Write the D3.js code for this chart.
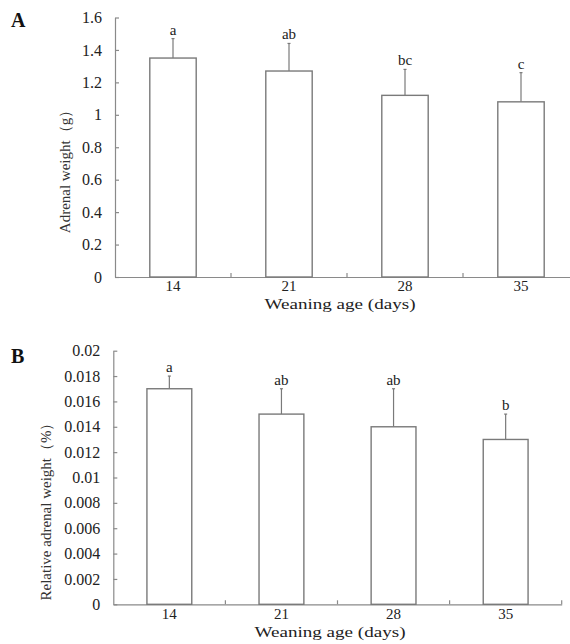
<!DOCTYPE html>
<html>
<head>
<meta charset="utf-8">
<script src="https://cdn.jsdelivr.net/npm/d3@7"></script>
<style>
  body { margin: 0; background: #fff; }
  svg { display: block; font-family: "Liberation Serif", "Times New Roman", serif; }
</style>
</head>
<body>
<div id="chart"></div>
<script>
// weaning ages (x categories)
var ages = ["14", "21", "28", "35"];

// panel A: adrenal weight (g)
var weightMean = [1.35, 1.27, 1.12, 1.08];
var weightSD = [0.12, 0.17, 0.16, 0.18];
var weightLetters = ["a", "ab", "bc", "c"];
var weightTicks = [0, 0.2, 0.4, 0.6, 0.8, 1, 1.2, 1.4, 1.6];

// panel B: relative adrenal weight (%)
var relMean = [0.017, 0.015, 0.014, 0.013];
var relSD = [0.001, 0.002, 0.003, 0.002];
var relLetters = ["a", "ab", "ab", "b"];
var relTicks = [0, 0.002, 0.004, 0.006, 0.008, 0.01, 0.012, 0.014, 0.016, 0.018, 0.02];

var W = 570, H = 644;
var axisColor = "#8a8a8a", textColor = "#222";

var svg = d3.select("#chart").append("svg")
    .attr("width", W)
    .attr("height", H);

// draws one panel
function panel(opt) {
    var g = svg.append("g");

    var x = d3.scaleBand()
        .domain(ages)
        .range([opt.left, opt.right])
        .paddingInner(0.6)
        .paddingOuter(0.3);

    var y = d3.scaleLinear()
        .domain([0, d3.max(opt.ticks)])
        .range([opt.bottom, opt.top]);

    // y axis, ticks point inward
    var yAxis = g.append("g")
        .attr("transform", "translate(" + opt.left + ",0)")
        .call(d3.axisLeft(y)
            .tickValues(opt.ticks)
            .tickSize(-4)
            .tickSizeOuter(0)
            .tickPadding(13)
            .tickFormat(function (d) { return String(+d.toFixed(opt.digits)); }));
    yAxis.selectAll("line, path").attr("stroke", axisColor).attr("stroke-width", 1.2);
    yAxis.selectAll("text").attr("fill", textColor).style("font-size", "16px")
        .style("font-family", "Liberation Serif, serif");

    // x axis, labels centred under the bars
    var xAxis = g.append("g")
        .attr("transform", "translate(0," + opt.bottom + ")")
        .call(d3.axisBottom(x).tickSize(0).tickSizeOuter(0).tickPadding(opt.xpad));
    xAxis.select("path").attr("stroke", axisColor).attr("stroke-width", 1.2);
    xAxis.selectAll("text").attr("fill", textColor).style("font-size", "15px")
        .style("font-family", "Liberation Serif, serif");

    // small upward ticks on the category boundaries
    var bounds = d3.range(1, ages.length + 1).map(function (i) { return opt.left + x.step() * i; });
    g.selectAll(".bt").data(bounds).enter().append("line")
        .attr("x1", function (d) { return d; })
        .attr("x2", function (d) { return d; })
        .attr("y1", opt.bottom)
        .attr("y2", opt.bottom - 4)
        .attr("stroke", axisColor)
        .attr("stroke-width", 1.2);

    // error bars (upper whisker only)
    g.selectAll(".err").data(opt.mean).enter().append("line")
        .attr("x1", function (d, i) { return x(ages[i]) + x.bandwidth() / 2; })
        .attr("x2", function (d, i) { return x(ages[i]) + x.bandwidth() / 2; })
        .attr("y1", function (d) { return y(d); })
        .attr("y2", function (d, i) { return y(d + opt.sd[i]); })
        .attr("stroke", "#7a7a7a")
        .attr("stroke-width", 1.2);
    g.selectAll(".cap").data(opt.mean).enter().append("line")
        .attr("x1", function (d, i) { return x(ages[i]) + x.bandwidth() / 2 - 1.5; })
        .attr("x2", function (d, i) { return x(ages[i]) + x.bandwidth() / 2 + 1.5; })
        .attr("y1", function (d, i) { return y(d + opt.sd[i]); })
        .attr("y2", function (d, i) { return y(d + opt.sd[i]); })
        .attr("stroke", "#7a7a7a")
        .attr("stroke-width", 1.2);

    // bars
    g.selectAll(".bar").data(opt.mean).enter().append("rect")
        .attr("x", function (d, i) { return x(ages[i]); })
        .attr("y", function (d) { return y(d); })
        .attr("width", x.bandwidth())
        .attr("height", function (d) { return opt.bottom - y(d); })
        .attr("fill", "#fff")
        .attr("stroke", "#7a7a7a")
        .attr("stroke-width", 1.4);

    // significance letters
    g.selectAll(".lt").data(opt.letters).enter().append("text")
        .attr("x", function (d, i) { return x(ages[i]) + x.bandwidth() / 2; })
        .attr("y", function (d, i) { return y(opt.mean[i] + opt.sd[i]) - 4; })
        .attr("text-anchor", "middle")
        .attr("fill", textColor)
        .style("font-size", "15px")
        .text(function (d) { return d; });

    // axis titles
    g.append("text")
        .attr("transform", "translate(" + opt.ytx + "," + opt.yty + ") rotate(-90)")
        .attr("text-anchor", "middle")
        .attr("dominant-baseline", "middle")
        .attr("fill", "#333")
        .style("font-size", "15px")
        .text(opt.ytitle);

    g.append("text")
        .attr("x", opt.xtx)
        .attr("y", opt.xty)
        .attr("text-anchor", "middle")
        .attr("fill", textColor)
        .attr("textLength", 151)
        .attr("lengthAdjust", "spacingAndGlyphs")
        .style("font-size", "15px")
        .text("Weaning age (days)");

    // panel letter
    g.append("text")
        .attr("x", opt.labx)
        .attr("y", opt.laby)
        .attr("fill", "#111")
        .style("font-size", "20px")
        .style("font-weight", "bold")
        .text(opt.label);
}

panel({
    label: "A", labx: 11, laby: 27,
    mean: weightMean, sd: weightSD, letters: weightLetters, ticks: weightTicks, digits: 1,
    left: 115, right: 579, top: 17.5, bottom: 277, xpad: 3,
    ytitle: "Adrenal weight（g）", ytx: 67, yty: 168,
    xtx: 340, xty: 309
});

panel({
    label: "B", labx: 11, laby: 363,
    mean: relMean, sd: relSD, letters: relLetters, ticks: relTicks, digits: 3,
    left: 113.3, right: 561.7, top: 350.7, bottom: 604.3, xpad: 4,
    ytitle: "Relative adrenal weight（%）", ytx: 48, yty: 508,
    xtx: 330, xty: 637
});
</script>
</body>
</html>
